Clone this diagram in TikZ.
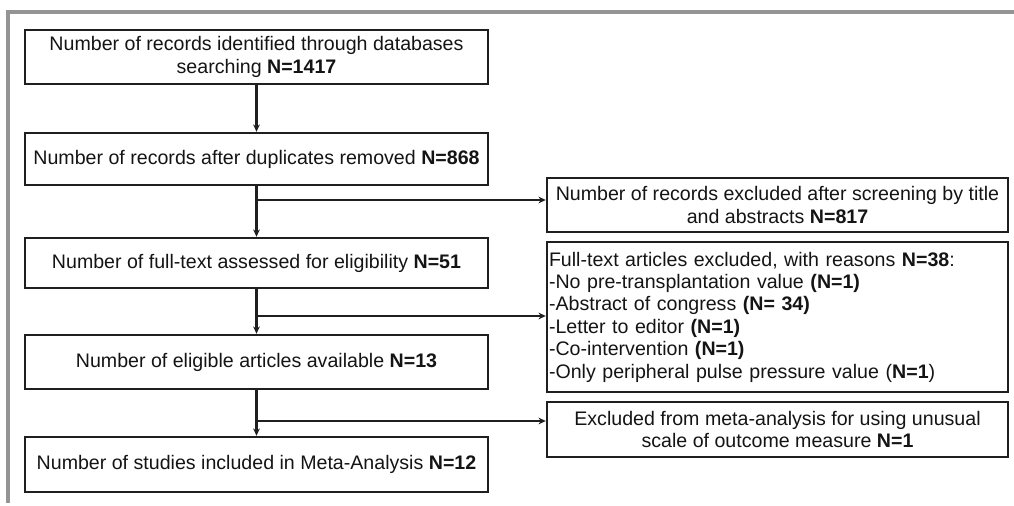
\documentclass[tikz,border=0pt]{standalone}
\usepackage{fontspec}
\setmainfont{Liberation Sans}
\usetikzlibrary{arrows.meta}
\begin{document}
\begin{tikzpicture}[x=0.75pt,y=-0.75pt,
  every node/.style={font=\fontsize{14.7pt}{16.8pt}\selectfont, text=black!92},
  box/.style={draw=black!88, line width=1.8pt, inner sep=1.5pt, align=center},
  mainbox/.style={box, minimum width=347.25pt},
  sidebox/.style={box, minimum width=345.75pt},
  conn/.style={draw=black!88, line width=1.6pt},
  arr/.style={conn, -{Stealth[length=5.5pt,width=5pt]}},
  frame/.style={draw=black!42, line width=3pt}
]
\useasboundingbox (0,0) rectangle (1014,506);
\draw[frame] (1014,12) -- (8,12) -- (8,503);

\node[mainbox, minimum height=40.5pt] (b1) at (256.5,57)
  {Number of records identified through databases\\searching \textbf{N=1417}};
\node[mainbox, minimum height=39pt] (b2) at (256.5,159)
  {Number of records after duplicates removed \textbf{N=868}};
\node[mainbox, minimum height=37.5pt] (b3) at (256.5,263)
  {Number of full-text assessed for eligibility \textbf{N=51}};
\node[mainbox, minimum height=40.5pt] (b4) at (256.5,362)
  {Number of eligible articles available \textbf{N=13}};
\node[mainbox, minimum height=41.25pt] (b5) at (256.5,464.5)
  {Number of studies included in Meta-Analysis \textbf{N=12}};

\node[sidebox, minimum height=40.5pt] (e1) at (777.5,205)
  {Number of records excluded after screening by title\\and abstracts \textbf{N=817}};
\node[box, minimum height=112.5pt, text width=342.75pt, align=left] (e2) at (777.5,317)
  {Full-text articles excluded, with reasons \textbf{N=38}:\\
   -No pre-transplantation value \textbf{(N=1)}\\
   -Abstract of congress \textbf{(N= 34)}\\
   -Letter to editor \textbf{(N=1)}\\
   -Co-intervention \textbf{(N=1)}\\
   -Only peripheral pulse pressure value (\textbf{N=1})};
\node[sidebox, minimum height=41.25pt] (e3) at (777.5,429.5)
  {Excluded from meta-analysis for using unusual\\scale of outcome measure \textbf{N=1}};

\draw[arr] (b1) -- (b2);
\draw[arr] (b2) -- (b3);
\draw[arr] (b3) -- (b4);
\draw[arr] (b4) -- (b5);

\coordinate (j1) at (256.5,200);
\coordinate (j2) at (256.5,316);
\coordinate (j3) at (256.5,421);
\draw[arr] (j1) -- (j1 -| e1.west);
\draw[arr] (j2) -- (j2 -| e2.west);
\draw[arr] (j3) -- (j3 -| e3.west);
\end{tikzpicture}
\end{document}
